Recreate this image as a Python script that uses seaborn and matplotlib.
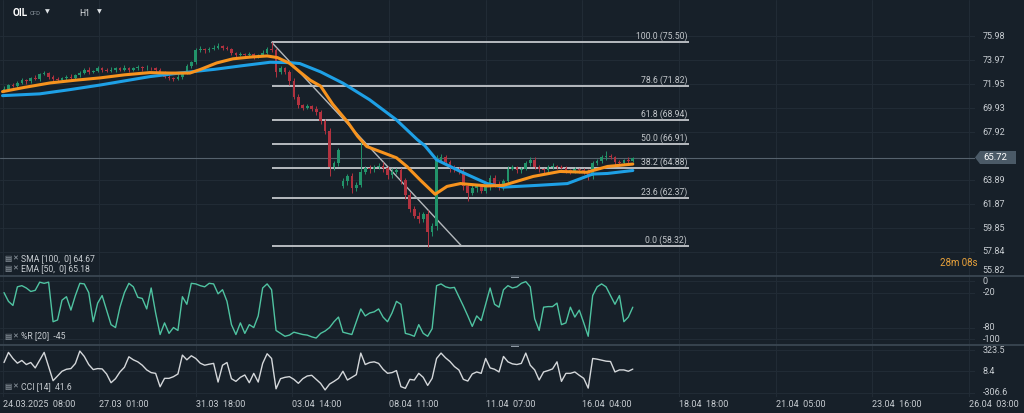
"""
plot.py
OIL CFD, H1 candles with SMA/EMA, Fibonacci retracement, %R and CCI panels.
"""

import pandas as pd
import matplotlib.pyplot as plt
import seaborn as sns
from matplotlib.patches import Polygon, Rectangle


# -----------------------------
# Config
# -----------------------------
W, H = 1024, 413
BG = "#172029"
GRID = "#212b35"
TXT = "#c8cdd2"
UP = "#22936a"
DOWN = "#b1323f"
EMA_C = "#f7931e"
SMA_C = "#1ea0e6"
WR_C = "#4fc3a1"
CCI_C = "#d4d7da"


# -----------------------------
# Data; x = hour-bar index since 24.03.2025 08:00
# -----------------------------
tick_bars = [0, 65, 130, 195, 260, 325, 390, 455, 520, 585, 650]
tick_labels = ["24.03.2025  08:00", "27.03  01:00", "31.03  18:00", "03.04  14:00",
               "08.04  11:00", "11.04  07:00", "16.04  04:00", "18.04  18:00",
               "21.04  05:00", "23.04  16:00", "26.04  03:00"]

# one candle per 3 hours
closes = [
    71.6, 71.9, 71.8, 72.1, 72.3, 72.2, 72.5, 72.4, 72.8, 72.9,
    72.6, 72.4, 72.3, 72.5, 72.6, 72.5, 72.7, 72.9, 73.2, 73.0,
    73.1, 73.3, 73.2, 73.1, 73.2, 73.3, 73.2, 73.35, 73.2, 73.3,
    73.4, 73.3, 73.35, 73.3, 73.2, 72.9, 72.6, 72.5, 72.4, 72.6,
    72.9, 73.5, 73.8, 74.8, 74.9, 74.8, 74.9, 75.0, 75.2, 75.0,
    74.9, 74.6, 74.4, 74.5, 74.4, 74.5, 74.3, 74.4, 74.6, 74.9,
    74.8, 73.0, 73.3, 73.0, 72.2, 70.9, 70.2, 70.0, 70.1, 69.9,
    69.6, 68.9, 68.0, 65.0, 65.3, 66.4, 63.8, 64.2, 63.2, 63.5,
    64.6, 64.9, 64.8, 65.0, 65.1, 64.9, 64.3, 64.6, 64.7, 63.9,
    62.6, 61.5, 60.9, 60.6, 61.0, 59.5, 60.0, 65.6, 65.8, 65.4,
    64.9, 64.8, 64.6, 63.4, 62.8, 63.2, 63.4, 63.0, 63.3, 64.1,
    63.6, 63.3, 63.8, 64.8, 65.0, 64.7, 64.8, 65.3, 65.6, 65.0,
    64.8, 64.7, 65.0, 65.1, 65.0, 64.9, 64.7, 64.6, 64.8, 64.7,
    64.6, 64.2, 65.3, 65.5, 65.8, 65.9, 65.8, 65.4, 65.3, 65.6,
    65.5, 65.72,
]
first_open = 71.4
gap_opens = {76: 63.4}

wick_up = [
    0.2, 0.1, 0.2, 0.1, 0.2, 0.1, 0.1, 0.2, 0.1, 0.2,
    0.1, 0.1, 0.2, 0.1, 0.1, 0.2, 0.1, 0.2, 0.1, 0.2,
    0.1, 0.2, 0.1, 0.1, 0.2, 0.1, 0.1, 0.2, 0.1, 0.1,
    0.2, 0.1, 0.2, 0.1, 0.1, 0.1, 0.2, 0.1, 0.1, 0.2,
    0.1, 0.2, 0.1, 0.2, 0.3, 0.1, 0.2, 0.3, 0.2, 0.1,
    0.2, 0.1, 0.1, 0.2, 0.1, 0.2, 0.1, 0.1, 0.2, 0.2,
    0.6, 0.2, 0.2, 0.1, 0.2, 0.3, 0.2, 0.1, 0.2, 0.1,
    0.2, 0.2, 0.1, 0.3, 0.2, 0.2, 0.3, 0.2, 0.3, 0.2,
    2.7, 0.2, 0.3, 0.2, 0.2, 0.3, 0.2, 0.3, 0.2, 0.2,
    0.2, 0.3, 0.2, 0.3, 0.2, 0.4, 0.3, 0.4, 0.3, 0.2,
    0.2, 0.3, 0.2, 0.2, 0.2, 0.3, 0.2, 0.2, 0.3, 0.2,
    0.2, 0.2, 0.2, 0.3, 0.2, 0.1, 0.2, 0.2, 0.25, 0.2,
    0.2, 0.1, 0.2, 0.2, 0.1, 0.2, 0.2, 0.1, 0.2, 0.1,
    0.2, 0.2, 0.2, 0.2, 0.2, 0.4, 0.2, 0.1, 0.2, 0.1,
    0.2, 0.1,
]
wick_dn = [
    0.1, 0.2, 0.1, 0.2, 0.1, 0.2, 0.1, 0.1, 0.2, 0.1,
    0.2, 0.2, 0.1, 0.1, 0.2, 0.1, 0.2, 0.1, 0.1, 0.2,
    0.1, 0.1, 0.2, 0.1, 0.1, 0.2, 0.1, 0.1, 0.2, 0.1,
    0.1, 0.2, 0.1, 0.1, 0.2, 0.2, 0.1, 0.2, 0.2, 0.1,
    0.2, 0.1, 0.2, 0.1, 0.1, 0.2, 0.1, 0.1, 0.1, 0.2,
    0.1, 0.2, 0.2, 0.1, 0.2, 0.1, 0.2, 0.1, 0.1, 0.1,
    0.1, 0.4, 0.2, 0.2, 0.3, 0.2, 0.2, 0.2, 0.1, 0.2,
    0.2, 0.3, 0.2, 0.8, 0.3, 0.2, 0.2, 0.3, 0.4, 0.2,
    0.2, 0.2, 0.3, 0.2, 0.2, 0.3, 0.3, 0.2, 0.2, 0.3,
    0.3, 0.3, 0.2, 0.3, 0.2, 1.2, 0.3, 0.3, 0.2, 0.2,
    0.3, 0.2, 0.2, 0.3, 0.7, 0.2, 0.3, 0.2, 0.2, 0.2,
    0.3, 0.2, 0.2, 0.2, 0.1, 0.2, 0.2, 0.1, 0.2, 0.2,
    0.2, 0.2, 0.1, 0.2, 0.2, 0.1, 0.2, 0.2, 0.1, 0.2,
    0.2, 0.3, 0.2, 0.1, 0.2, 0.2, 0.1, 0.2, 0.2, 0.1,
    0.2, 0.1,
]

ema_x = [0, 15, 32, 49, 66, 82, 99, 113, 126, 133, 144, 155, 167, 178, 185,
         193, 200, 207, 214, 222, 232, 239, 245, 256, 265, 272, 281, 291,
         299, 308, 326, 337, 357, 375, 393, 407, 424]
ema_y = [71.34, 71.7, 72.07, 72.3, 72.5, 72.75, 72.94, 72.9, 72.9, 73.2, 73.75,
         74.1, 74.25, 74.34, 74.2, 73.73, 73.0, 72.3, 71.8, 70.3, 68.8, 67.56,
         66.72, 66.2, 65.77, 65.04, 63.9, 62.7, 63.36, 63.6, 63.4, 63.45, 64.2,
         64.62, 64.55, 65.04, 65.24]

sma_x = [0, 25, 45, 66, 99, 119, 143, 160, 180, 193, 200, 214, 229, 247, 265,
         279, 284, 292, 308, 326, 337, 360, 380, 397, 407, 424]
sma_y = [71.0, 71.15, 71.5, 71.9, 72.6, 72.9, 73.22, 73.5, 73.81, 73.78, 73.7,
         73.0, 72.05, 70.65, 68.96, 67.3, 66.8, 65.6, 64.62, 63.6, 63.3, 63.45,
         63.6, 64.4, 64.45, 64.7]

wr = [
    -20, -35, -42, -10, -8, -12, -18, -16, -2, -4,
    -2, -70, -67, -33, -27, -50, -25, -4, -5, -20,
    -70, -38, -25, -50, -75, -80, -45, -20, -4, -10,
    -28, -30, -48, -12, -55, -92, -72, -90, -80, -85,
    -27, -40, -4, -5, -8, -10, -4, -5, -22, -15,
    -35, -75, -92, -72, -90, -75, -80, -60, -12, -5,
    -15, -85, -90, -95, -93, -88, -90, -92, -93, -96,
    -98, -90, -86, -80, -70, -62, -88, -90, -92, -70,
    -48, -60, -55, -53, -48, -62, -70, -55, -35, -40,
    -90, -92, -95, -75, -90, -95, -82, -8, -5, -10,
    -12, -11, -27, -43, -60, -78, -60, -68, -40, -12,
    -40, -45, -15, -8, -12, -10, -4, -1, -10, -65,
    -85, -45, -44, -44, -38, -75, -72, -45, -62, -50,
    -72, -95, -25, -10, -5, -10, -25, -40, -25, -70,
    -62, -45,
]
cci = [
    140, 290, 200, 130, 170, 110, 140, 60, 176, 290,
    80, -130, -60, 10, 40, 50, 125, 310, 230, 110,
    35, 50, 45, -30, -160, -100, 0, 70, 225, 180,
    150, 100, 30, -10, -21, -220, -95, -95, -70, -30,
    250, 180, 240, 200, 130, 100, 115, 127, -150, 100,
    140, -100, -140, -80, -45, -160, -21, -150, 127, 270,
    200, -250, -100, -80, -70, -110, -169, -100, -60, -50,
    -110, -170, -267, -180, -140, -95, 10, -120, -80, -40,
    280, 110, 140, 150, 127, 40, -20, -10, 20, -218,
    -243, -110, -120, -21, -80, -200, -95, 200, 280, 210,
    155, 80, 30, -110, -135, -30, 0, -21, 200, 60,
    40, 0, 230, 150, 120, 110, 127, 280, 100, 30,
    -120, 0, 20, 45, 150, -140, -21, -21, 0, -50,
    -95, -240, 200, 190, 175, 160, 155, 0, 30, 30,
    10, 42,
]

fib_pct = ["100.0", "78.6", "61.8", "50.0", "38.2", "23.6", "0.0"]
fib_price = [75.50, 71.82, 68.94, 66.91, 64.88, 62.37, 58.32]
fib_x = [181, 462]
trend_x = [181, 309]
trend_y = [75.50, 58.32]

price_ticks = [75.98, 73.97, 71.95, 69.93, 67.92, 63.89, 61.87, 59.85, 57.84, 55.82]
last_price = 65.72
wr_ticks = [0, -20, -80, -100]
cci_ticks = [323.5, 8.4, -306.6]


# -----------------------------
# Helpers
# -----------------------------
def panel(top, bottom, right=975):
    """Axes rectangle from pixel rows (top/bottom) of the 1024x413 canvas."""
    return [0, 1 - bottom / H, right / W, (bottom - top) / H]


def style_axes(a, ticks):
    a.set_facecolor(BG)
    for s in a.spines.values():
        s.set_visible(False)
    a.set_yticks(ticks)
    a.set_xticks(tick_bars)
    a.grid(True, color=GRID, linewidth=0.8)
    a.tick_params(length=0, labelleft=False, labelbottom=False)
    a.set_xlabel("")
    a.set_ylabel("")


def right_labels(a, ticks, labels):
    lo, hi = a.get_ylim()
    for v, lab in zip(ticks, labels):
        y, va = v, "center"
        if v < lo + 0.3:
            y, va = lo + 0.05, "bottom"
        a.text(1.008, y, lab, transform=a.get_yaxis_transform(), ha="left",
               va=va, fontsize=6.5, color=TXT, clip_on=False)


# -----------------------------
# Build figure
# -----------------------------
sns.set_theme(style="dark", rc={"axes.facecolor": BG, "figure.facecolor": BG})
plt.rcParams["font.family"] = ["Roboto", "DejaVu Sans"]

df = pd.DataFrame({"close": closes, "up": wick_up, "dn": wick_dn})
df["open"] = df["close"].shift(1).fillna(first_open)
for k, v in gap_opens.items():
    df.loc[k, "open"] = v
df["x"] = 3 * df.index + 1
df["top"] = df[["open", "close"]].max(axis=1)
df["bot"] = df[["open", "close"]].min(axis=1)
df["high"] = df["top"] + df["up"]
df["low"] = df["bot"] - df["dn"]
colors = [UP if c >= o else DOWN for o, c in zip(df["open"], df["close"])]

fig = plt.figure(figsize=(W / 100, H / 100), dpi=100)
ax = fig.add_axes(panel(0, 276))
ax_wr = fig.add_axes(panel(276, 345), sharex=ax)
ax_cci = fig.add_axes(panel(345, 397), sharex=ax)

# main price panel
ax.set_xlim(-1.7, 654.2)
ax.set_ylim(55.85, 79.05)
style_axes(ax, price_ticks)

ax.vlines(df["x"], df["low"], df["high"], colors=colors, linewidth=0.7, zorder=3)
ax.bar(df["x"], (df["top"] - df["bot"]).clip(lower=0.06), bottom=df["bot"],
       width=1.8, color=colors, linewidth=0, zorder=3)

sns.lineplot(x=sma_x, y=sma_y, ax=ax, color=SMA_C, linewidth=2.2, zorder=4)
sns.lineplot(x=ema_x, y=ema_y, ax=ax, color=EMA_C, linewidth=2.2, zorder=5)

ax.hlines(fib_price, fib_x[0], fib_x[1], colors="#c3c7cb", linewidth=1.3, zorder=2)
ax.plot(trend_x, trend_y, color="#b4b8bc", linewidth=1.0, zorder=2)
for pct, p in zip(fib_pct, fib_price):
    ax.annotate(f"{pct} ({p:.2f})", (fib_x[1], p), xytext=(-1.5, 4.2),
                textcoords="offset points", ha="right", va="center",
                fontsize=6.2, color="#c3c7cb")

ax.axhline(last_price, color="#56626d", linewidth=0.8, zorder=1)
right_labels(ax, price_ticks, [f"{v:.2f}" for v in price_ticks])

# %R panel
ax_wr.set_ylim(-110, 8.6)
style_axes(ax_wr, wr_ticks)
sns.lineplot(x=df["x"], y=wr, ax=ax_wr, color=WR_C, linewidth=1.0)
right_labels(ax_wr, wr_ticks, [str(v) for v in wr_ticks])

# CCI panel
ax_cci.set_ylim(-372, 400)
style_axes(ax_cci, cci_ticks)
sns.lineplot(x=df["x"], y=cci, ax=ax_cci, color=CCI_C, linewidth=1.0)
right_labels(ax_cci, cci_ticks, [str(v) for v in cci_ticks])
ax_cci.set_xticks(tick_bars)
ax_cci.set_xticklabels(tick_labels, ha="left", fontsize=6.5, color=TXT)
ax_cci.tick_params(labelbottom=True, pad=2)
ax_cci.set_xlim(-1.7, 654.2)

# -----------------------------
# Overlay (pixel coordinates) for header, legends, separators
# -----------------------------
ov = fig.add_axes([0, 0, 1, 1])
ov.set_xlim(0, W)
ov.set_ylim(H, 0)
ov.axis("off")

for yy in (276, 345):
    ov.plot([0, 1024], [yy, yy], color="#3a4651", linewidth=1.3)
    ov.add_patch(Rectangle((511, yy - 1.5), 8, 3, color="#8d98a2", linewidth=0))

ov.text(13, 13, "OIL", fontsize=7.2, fontweight="bold", color="white", va="center")
ov.text(29.5, 13.5, "CFD", fontsize=4.2, color="#8c969f", va="center")
ov.text(45, 12, "▼", fontsize=4.5, color="#dfe3e6", va="center", family="DejaVu Sans")
ov.text(79, 13.5, "H1", fontsize=6.2, color="#dfe3e6", va="center")
ov.text(97, 12, "▼", fontsize=4.5, color="#dfe3e6", va="center", family="DejaVu Sans")

legend_rows = [(259, "SMA [100,  0] 64.67"), (268.5, "EMA [50,  0] 65.18"),
               (336, "%R [20]  -45"), (386.5, "CCI [14]  41.6")]
for yy, lab in legend_rows:
    ov.text(4, yy, "▤", fontsize=5.5, color="#97a1aa", va="center", family="DejaVu Sans")
    ov.text(12.5, yy, "✕", fontsize=5.0, color="#97a1aa", va="center", family="DejaVu Sans")
    ov.text(21, yy, lab, fontsize=6.2, color=TXT, va="center")

ov.add_patch(Polygon([(975, 157.5), (980, 151), (1016, 151), (1016, 164), (980, 164)],
                     closed=True, color="#4b5a67", linewidth=0))
ov.text(983, 157.8, f"{last_price:.2f}", fontsize=6.8, color="white", va="center")

ov.text(977, 262.5, "28m 08s", fontsize=7, color="#e9a23b", va="center", ha="right")

fig.savefig("out.png", dpi=100, facecolor=BG)
plt.close(fig)
